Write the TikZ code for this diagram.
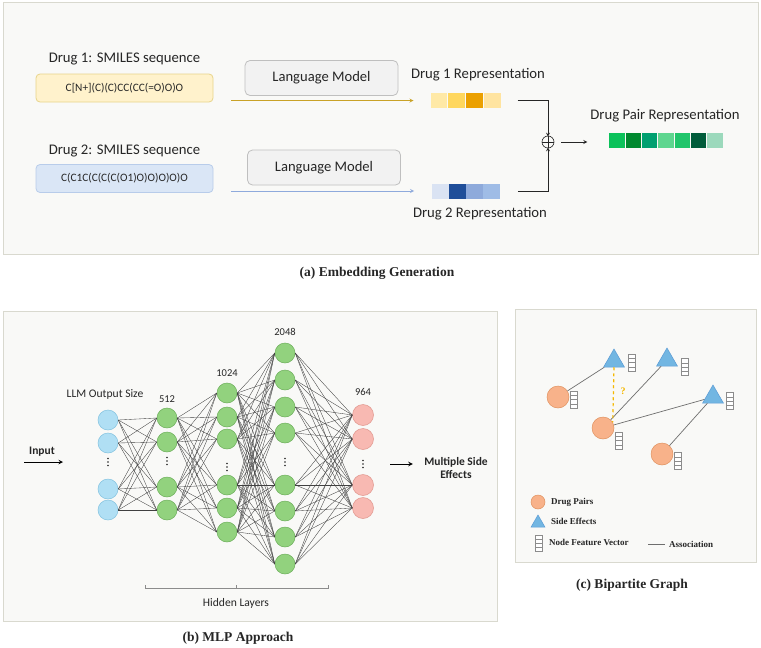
\documentclass[tikz,border=0pt]{standalone}
\usepackage{fontspec}
\setmainfont{Carlito}
\newfontfamily\capfont{Liberation Serif}
\usepackage{xcolor}
\usetikzlibrary{calc,positioning,shapes.geometric}

\definecolor{panelbg}{HTML}{F9F9F7}
\definecolor{framegray}{HTML}{D9D9CF}
\definecolor{txtgray}{HTML}{262626}
\definecolor{yelfill}{HTML}{FFF2CC}
\definecolor{yeldraw}{HTML}{E8D48A}
\definecolor{bluefill}{HTML}{DAE6F6}
\definecolor{bluedraw}{HTML}{B8CCEA}
\definecolor{lmfill}{HTML}{F2F2F2}
\definecolor{lmdraw}{HTML}{BFBFBF}
\definecolor{arrA}{HTML}{C9A227}
\definecolor{arrB}{HTML}{8FAADC}
\definecolor{vA1}{HTML}{FFE9A6}
\definecolor{vA2}{HTML}{FFD75E}
\definecolor{vA3}{HTML}{EBA000}
\definecolor{vA4}{HTML}{FFE4A0}
\definecolor{vB1}{HTML}{DAE3F3}
\definecolor{vB2}{HTML}{1F4E99}
\definecolor{vB3}{HTML}{8EAADB}
\definecolor{vB4}{HTML}{9FBCE6}
\definecolor{vP1}{HTML}{0BC25A}
\definecolor{vP2}{HTML}{00892F}
\definecolor{vP3}{HTML}{00A070}
\definecolor{vP4}{HTML}{5ED68F}
\definecolor{vP5}{HTML}{21C56B}
\definecolor{vP6}{HTML}{005C3A}
\definecolor{vP7}{HTML}{9CD9BC}
\definecolor{inFill}{HTML}{B0DFF4}
\definecolor{inDraw}{HTML}{84C3E0}
\definecolor{hidFill}{HTML}{92D27E}
\definecolor{hidDraw}{HTML}{6DAF5B}
\definecolor{outFill}{HTML}{F8B9B2}
\definecolor{outDraw}{HTML}{E0958C}
\definecolor{dpFill}{HTML}{F8B28A}
\definecolor{dpDraw}{HTML}{E0925F}
\definecolor{seFill}{HTML}{72B6E2}
\definecolor{seDraw}{HTML}{5B9BD5}
\definecolor{fvgray}{HTML}{8C8C8C}
\definecolor{assoc}{HTML}{6E6E6E}
\definecolor{qyel}{HTML}{F5B800}

\begin{document}
\begin{tikzpicture}[x=1pt,y=-1pt,>=stealth,
  panel/.style={draw=framegray,fill=panelbg,line width=0.8pt},
  smiles/.style={rounded corners=4pt,line width=0.8pt,minimum width=177pt,minimum height=28pt,inner sep=0pt,text=txtgray,font=\fontsize{11.3}{13}\selectfont},
  lmbox/.style={rounded corners=5pt,draw=lmdraw,fill=lmfill,line width=0.8pt,minimum width=153pt,minimum height=35pt,inner sep=0pt,text=txtgray,font=\fontsize{14.6}{17}\selectfont},
  lbl/.style={text=txtgray,font=\fontsize{14.7}{17}\selectfont},
  cell/.style={minimum width=16.8pt,minimum height=15pt,inner sep=0pt,outer sep=0pt},
  pcell/.style={minimum width=15.4pt,minimum height=15pt,inner sep=0pt,outer sep=0pt},
  caption/.style={text=txtgray,font=\capfont\bfseries\fontsize{13.5}{16}\selectfont},
  neuron/.style={circle,minimum size=20pt,inner sep=0pt,line width=0.5pt},
  inneuron/.style={neuron,fill=inFill,draw=inDraw},
  hidneuron/.style={neuron,fill=hidFill,draw=hidDraw},
  outneuron/.style={neuron,fill=outFill,draw=outDraw,minimum size=21pt},
  conn/.style={draw=black!75,line width=0.35pt},
  small/.style={text=txtgray,font=\fontsize{11.6}{13}\selectfont},
  num/.style={text=txtgray,font=\fontsize{10.5}{12}\selectfont},
  smallbf/.style={text=txtgray,font=\bfseries\fontsize{11.5}{13.5}\selectfont},
  drugpair/.style={circle,fill=dpFill,draw=dpDraw,line width=0.5pt,minimum size=22pt,inner sep=0pt},
  sideeff/.style={regular polygon,regular polygon sides=3,fill=seFill,draw=seDraw,line width=0.5pt,minimum size=24pt,inner sep=0pt},
  fvec/.style={draw=fvgray,fill=white,line width=0.5pt,minimum width=7pt,minimum height=17pt,inner sep=0pt,
    path picture={\foreach \k in {1,2,3}
      \draw[fvgray,line width=0.4pt] ($(path picture bounding box.north west)!\k/4!(path picture bounding box.south west)$) -- ($(path picture bounding box.north east)!\k/4!(path picture bounding box.south east)$);}},
  edge/.style={draw=assoc,line width=0.7pt},
  legend/.style={text=txtgray,font=\capfont\bfseries\fontsize{9}{10}\selectfont,anchor=west,inner sep=0pt}
]
\useasboundingbox (0,0) rectangle (761,648);

%Panels
\draw[panel] (3,2) rectangle (758,254);
\draw[panel] (3,311) rectangle (497,621);
\draw[panel] (515,309) rectangle (756,562);

%Captions
\node[caption] (capA) at (377,273) {(a) Embedding Generation};
\node[caption] (capB) at (238,638) {(b) MLP Approach};
\node[caption] (capC) at (632,585) {(c) Bipartite Graph};

%SMILES inputs
\node[lbl] (drugA) at (124.5,59) {Drug 1: SMILES sequence};
\node[smiles,fill=yelfill,draw=yeldraw] (smA) at (124.5,88) {C[N+](C)(C)CC(CC(=O)O)O};
\node[lbl] (drugB) at (124.5,151) {Drug 2: SMILES sequence};
\node[smiles,fill=bluefill,draw=bluedraw] (smB) at (124.5,178.5) {C(C1C(C(C(C(O1)O)O)O)O)O};

%Language models
\node[lmbox] (lmA) at (321.5,78) {Language Model};
\node[lmbox] (lmB) at (324,167.5) {Language Model};

%Representations
\node[lbl] (repA) at (478,75) {Drug 1 Representation};
\foreach \c [count=\i] in {vA1,vA2,vA3,vA4}
  \node[cell,fill=\c] (vecA\i) at ({438.9+17.75*(\i-1)},100.5) {};
\node[lbl] (repB) at (480,214) {Drug 2 Representation};
\foreach \c [count=\i] in {vB1,vB2,vB3,vB4}
  \node[cell,fill=\c] (vecB\i) at ({440.5+17*(\i-1)},191) {};
\node[lbl] (repP) at (665,116) {Drug Pair Representation};
\foreach \c [count=\i] in {vP1,vP2,vP3,vP4,vP5,vP6,vP7}
  \node[pcell,fill=\c] (vecP\i) at ({617.1+16.3*(\i-1)},140.5) {};

%Model outputs
\coordinate (outA) at (231,100.5);
\coordinate (outB) at (231,191);
\draw[->,arrA,line width=0.8pt,shorten >=17pt] (outA) -- (vecA1.west);
\draw[->,arrB,line width=0.8pt,shorten >=18pt] (outB) -- (vecB1.west);

%Concatenation
\node[circle,draw=txtgray,line width=0.6pt,minimum size=12pt,inner sep=0pt,
  path picture={\draw[txtgray,line width=0.6pt] (path picture bounding box.north) -- (path picture bounding box.south);
                \draw[txtgray,line width=0.6pt] (path picture bounding box.west) -- (path picture bounding box.east);}]
  (plus) at (548,142) {};
\draw[->,txtgray,line width=0.8pt] ([xshift=17pt]vecA4.east) -| ([yshift=-1pt]plus.north);
\draw[->,txtgray,line width=0.8pt] ([xshift=18pt]vecB4.east) -| ([yshift=1pt]plus.south);
\draw[->,txtgray,line width=0.8pt,shorten <=7pt,shorten >=22pt] (plus.east) -- (plus.east -| vecP1.west);

%MLP layers
\node[small] (llm) at (105,394) {LLM Output Size};
\node[num] (nA) at (167,399) {512};
\node[num] (nB) at (227,373) {1024};
\node[num] (nC) at (285,332) {2048};
\node[num] (nO) at (363,392) {964};

\foreach \y [count=\i] in {420,443,489,510}
  \node[inneuron] (I\i) at (108,\y) {};
\foreach \y [count=\i] in {418,442,487,510}
  \node[hidneuron] (Ha\i) at (167,\y) {};
\foreach \y [count=\i] in {393,417,439,485,508,532}
  \node[hidneuron] (Hb\i) at (227,\y) {};
\foreach \y [count=\i] in {353,380,407,433,485,511,537,564}
  \node[hidneuron] (Hc\i) at (285,\y) {};
\foreach \y [count=\i] in {415,439,485,508}
  \node[outneuron] (O\i) at (363,\y) {};

%Vertical dots
\foreach \x/\y in {108/462,167/461,227/467,285/462,363/464}
  \foreach \d in {-3.5,0,3.5}
    \fill[txtgray] (\x,\y+\d) circle (0.8pt);

%Connections
\foreach \i in {1,...,4} \foreach \j in {1,...,4}
  \draw[conn] (I\i.east) -- (Ha\j.west);
\foreach \i in {1,...,4} \foreach \j in {1,...,6}
  \draw[conn] (Ha\i.east) -- (Hb\j.west);
\foreach \i in {1,...,6} \foreach \j in {1,...,8}
  \draw[conn] (Hb\i.east) -- (Hc\j.west);
\foreach \i in {1,...,8} \foreach \j in {1,...,4}
  \draw[conn] (Hc\i.east) -- (O\j.west);

%Input and output
\node[smallbf] (inlbl) at (42,452) {Input};
\coordinate (inS) at (24,462);
\coordinate (inE) at (63,462);
\draw[->,black,line width=1pt] (inS) -- (inE);
\node[smallbf,align=center] (outlbl) at (456,468) {Multiple Side\\Effects};
\coordinate (outS) at (390,464);
\draw[->,black,line width=1pt,shorten >=8pt] (outS) -- (outS -| outlbl.west);

%Hidden layers bracket
\draw[fvgray,line width=0.8pt] (145,585) -- (145,588) -- (328,588) -- (328,585);
\draw[fvgray,line width=0.8pt] (236,588) -- (236,585);
\node[small] (hidlbl) at (236,603) {Hidden Layers};

%Bipartite graph
\node[drugpair] (dp1) at (558,397) {};
\node[drugpair] (dp2) at (603,428) {};
\node[drugpair] (dp3) at (662,454) {};
\node[sideeff] (se1) at (614,361) {};
\node[sideeff] (se2) at (667,360) {};
\node[sideeff] (se3) at (713,397) {};

\node[fvec] (fv1) at (631.5,362.5) {};
\node[fvec] (fv2) at (685,367) {};
\node[fvec] (fv3) at (730,401) {};
\node[fvec] (fv4) at (574,399.5) {};
\node[fvec] (fv5) at (619,440.5) {};
\node[fvec] (fv6) at (678,461) {};

\draw[edge] (dp1) -- (se1);
\draw[edge] (dp2) -- (se2);
\draw[edge] (dp2) -- (se3);
\draw[edge] (dp3) -- (se3);
\draw[qyel,line width=1.2pt,dashed] (se1.south) -- (dp2.30);
\node[text=qyel,font=\capfont\bfseries\fontsize{10}{11}\selectfont] (qm) at (623,391) {?};

%Legend
\node[drugpair,minimum size=14pt] (lgdp) at (538,502) {};
\node[legend] (lgdpt) at (551,502) {Drug Pairs};
\node[sideeff,minimum size=16pt] (lgse) at (538,523) {};
\node[legend] (lgset) at (551,521.5) {Side Effects};
\node[fvec,minimum height=16pt] (lgfv) at (538.5,543) {};
\node[legend] (lgfvt) at (549,542) {Node Feature Vector};
\coordinate (asS) at (648,544);
\coordinate (asE) at (665,544);
\draw[edge] (asS) -- (asE);
\node[legend] (lgas) at (669,544) {Association};

\end{tikzpicture}
\end{document}
